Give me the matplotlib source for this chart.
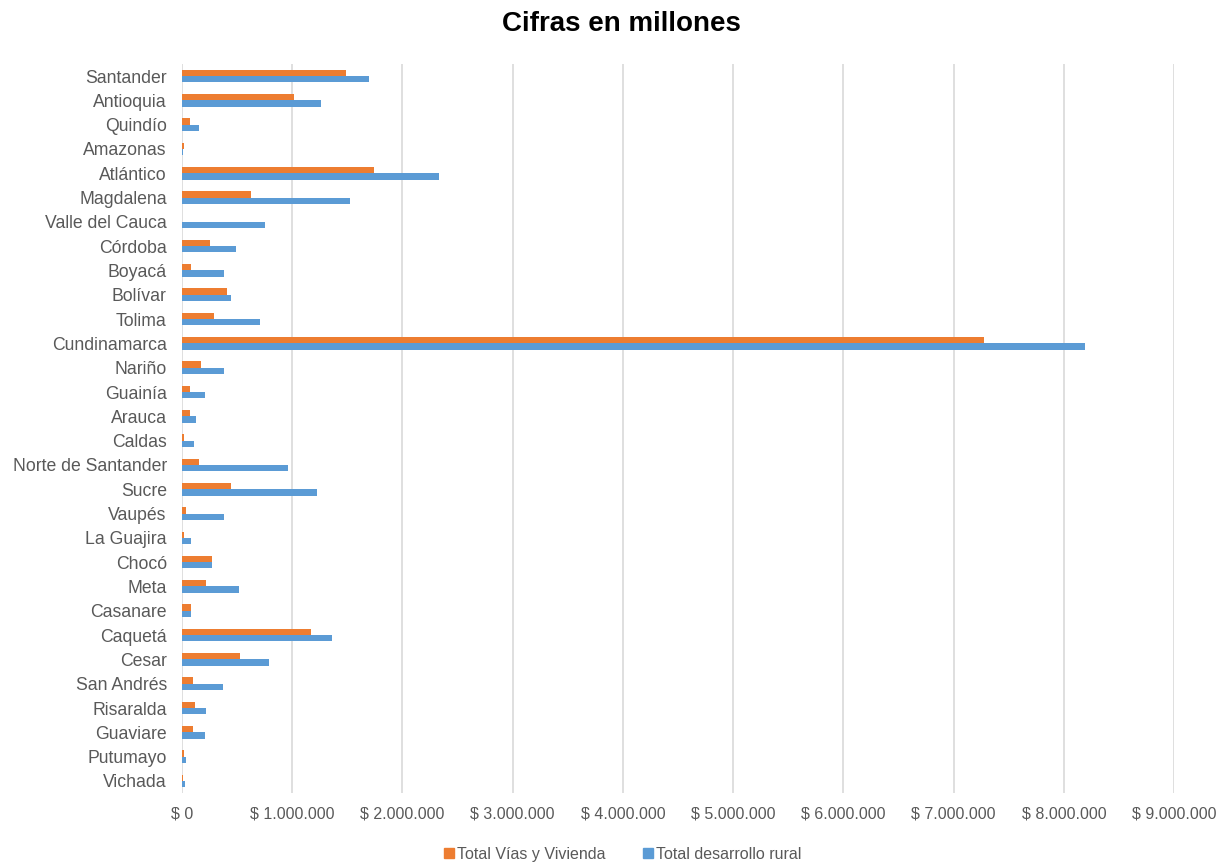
import matplotlib
matplotlib.use("Agg")
import matplotlib.pyplot as plt
from matplotlib.ticker import FuncFormatter, MultipleLocator
from matplotlib.lines import Line2D
import numpy as np

plt.rcParams['font.family'] = ['Liberation Sans', 'DejaVu Sans']

departamentos = ["Santander", "Antioquia", "Quindío", "Amazonas", "Atlántico",
                 "Magdalena", "Valle del Cauca", "Córdoba", "Boyacá", "Bolívar",
                 "Tolima", "Cundinamarca", "Nariño", "Guainía", "Arauca",
                 "Caldas", "Norte de Santander", "Sucre", "Vaupés", "La Guajira",
                 "Chocó", "Meta", "Casanare", "Caquetá", "Cesar",
                 "San Andrés", "Risaralda", "Guaviare", "Putumayo", "Vichada"]

# valores en pesos (millones)
vias_vivienda = [1485000, 1020000, 70000, 15000, 1740000,
                 630000, 0, 250000, 80000, 410000,
                 290000, 7275000, 170000, 70000, 70000,
                 15000, 150000, 440000, 40000, 15000,
                 270000, 220000, 80000, 1170000, 530000,
                 100000, 120000, 100000, 15000, 10000]

desarrollo_rural = [1700000, 1260000, 150000, 10000, 2330000,
                    1520000, 750000, 490000, 380000, 440000,
                    710000, 8196000, 380000, 210000, 130000,
                    110000, 960000, 1220000, 380000, 80000,
                    270000, 520000, 80000, 1360000, 790000,
                    370000, 220000, 210000, 40000, 30000]

naranja = "#ED7D31"
azul = "#5B9BD5"
gris_texto = "#595959"

fig = plt.figure(figsize=(12.3, 8.63), dpi=100)
ax = fig.add_axes([0.148, 0.081, 0.9545 - 0.148, 0.926 - 0.081])

y = np.arange(len(departamentos))
h = 0.26
ax.barh(y - h / 2, vias_vivienda, height=h, color=naranja, zorder=3)
ax.barh(y + h / 2, desarrollo_rural, height=h, color=azul, zorder=3)

ax.set_ylim(len(departamentos) - 0.5, -0.5)
ax.set_xlim(0, 9000000)
ax.set_yticks(y)
ax.set_yticklabels(departamentos)

def pesos(v, pos):
    if v == 0:
        return "$ 0"
    return "$ " + "{:,.0f}".format(v).replace(",", ".")

ax.xaxis.set_major_locator(MultipleLocator(1000000))
ax.xaxis.set_major_formatter(FuncFormatter(pesos))
ax.grid(axis="x", color="#D9D9D9", linewidth=1.2, zorder=0)

for s in ax.spines.values():
    s.set_visible(False)

ax.tick_params(axis="y", length=0, pad=11, labelsize=12.7, labelcolor=gris_texto)
ax.tick_params(axis="x", length=0, pad=10, labelsize=11.5, labelcolor=gris_texto)

fig.suptitle("Cifras en millones", x=0.505, y=0.987, fontsize=20,
             fontweight="bold", color="black", va="top")

handles = [Line2D([], [], marker="s", linestyle="none", color=naranja, markersize=7),
           Line2D([], [], marker="s", linestyle="none", color=azul, markersize=7)]
leg = fig.legend(handles, ["Total Vías y Vivienda", "Total desarrollo rural"],
                 loc="lower center", bbox_to_anchor=(0.505, -0.015), ncol=2,
                 frameon=False, fontsize=11.5, handletextpad=0.0,
                 columnspacing=2.2, handlelength=1.0)
for t in leg.get_texts():
    t.set_color(gris_texto)

fig.savefig("out.png", dpi=100, facecolor="white")
